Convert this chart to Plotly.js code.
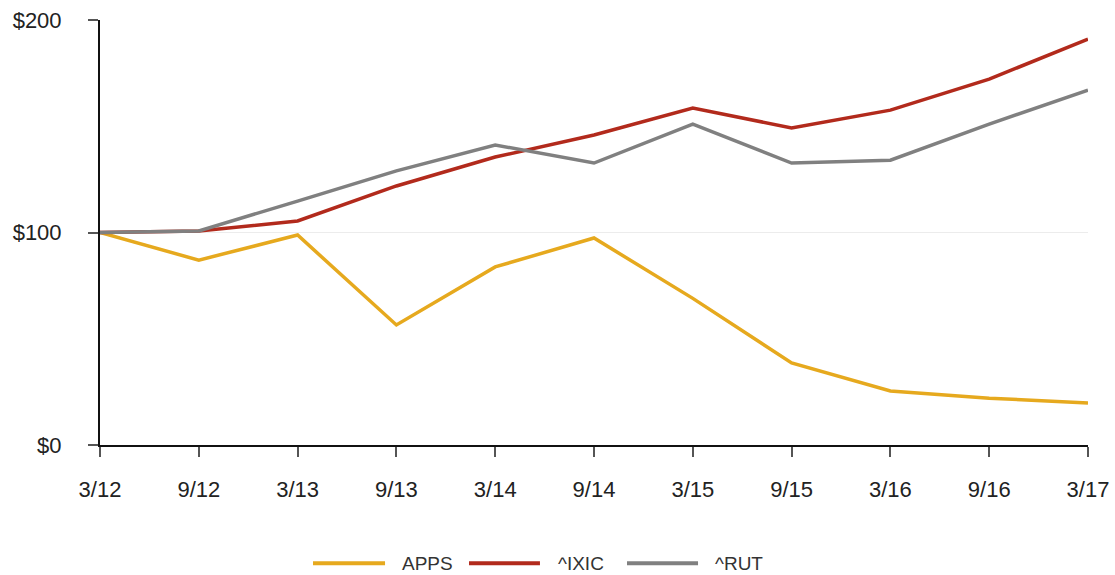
<!DOCTYPE html>
<html>
<head>
<meta charset="utf-8">
<script src="https://cdn.plot.ly/plotly-3.0.1.min.js"></script>
<style>html,body{margin:0;padding:0;background:#fff;}#chart{width:1115px;height:575px;}</style>
</head>
<body>
<div id="chart"></div>
<script>
const categories = ["3/12","9/12","3/13","9/13","3/14","9/14","3/15","9/15","3/16","9/16","3/17"];
const apps = [100, 87, 98.8, 56.5, 83.8, 97.4, 69, 38.6, 25.4, 22, 19.8];
const ixic = [100, 100.7, 105.4, 121.9, 135.5, 145.9, 158.6, 149.2, 157.6, 172.2, 191];
const rut  = [100, 100.7, 114.8, 129, 141.2, 132.7, 151, 132.7, 134, 151, 167];
const yTickVals = [0, 100, 200];
const yTickText = ["$0", "$100", "$200"];
const seriesNames = ["APPS", "^IXIC", "^RUT"];
const seriesColors = ["#E6A91E", "#B22A1C", "#808080"];

const font = "Liberation Sans, Arial, sans-serif";
const seriesData = [apps, ixic, rut];
const traces = seriesData.map((vals, i) => ({
  type: "scatter", mode: "lines", name: seriesNames[i], x: categories, y: vals,
  line: {color: seriesColors[i], width: 3.5}, hoverinfo: "skip", showlegend: false
}));

// manual legend (paper coordinates) so the key lines match the original's long swatches
const legendY = -0.278;
const legendItems = [
  {x0: 0.2156, x1: 0.2885, tx: 0.3036},
  {x0: 0.3735, x1: 0.4453, tx: 0.4615},
  {x0: 0.5334, x1: 0.6053, tx: 0.6204}
];
const shapes = legendItems.map((it, i) => ({
  type: "line", xref: "paper", yref: "paper", x0: it.x0, x1: it.x1, y0: legendY, y1: legendY,
  line: {color: seriesColors[i], width: 4}
}));
const annotations = legendItems.map((it, i) => ({
  xref: "paper", yref: "paper", x: it.tx, y: legendY, xanchor: "left", yanchor: "middle",
  text: seriesNames[i], showarrow: false, font: {family: font, size: 19, color: "#333"}
}));

const layout = {
  width: 1115, height: 575,
  margin: {l: 100, r: 27, t: 20, b: 130},
  paper_bgcolor: "#fff", plot_bgcolor: "#fff",
  font: {family: font, size: 20, color: "#222"},
  showlegend: false,
  shapes: shapes, annotations: annotations,
  xaxis: {
    type: "category", range: [0, categories.length - 1],
    showline: true, linecolor: "#111", linewidth: 2,
    ticks: "outside", ticklen: 10, tickcolor: "#555", tickwidth: 2,
    ticklabelstandoff: 14,
    showgrid: false, zeroline: false, fixedrange: true,
    tickfont: {family: font, size: 22, color: "#222"}, automargin: false
  },
  yaxis: {
    range: [0, 200], tickvals: yTickVals, ticktext: yTickText,
    showline: true, linecolor: "#111", linewidth: 2,
    ticks: "outside", ticklen: 10, tickcolor: "#555", tickwidth: 2,
    ticklabelstandoff: 22,
    showgrid: true, gridcolor: "#ececec", gridwidth: 1.5, zeroline: false, fixedrange: true,
    tickfont: {family: font, size: 22, color: "#222"}, automargin: false
  }
};
Plotly.newPlot("chart", traces, layout, {displayModeBar: false, staticPlot: true});
</script>
</body>
</html>
